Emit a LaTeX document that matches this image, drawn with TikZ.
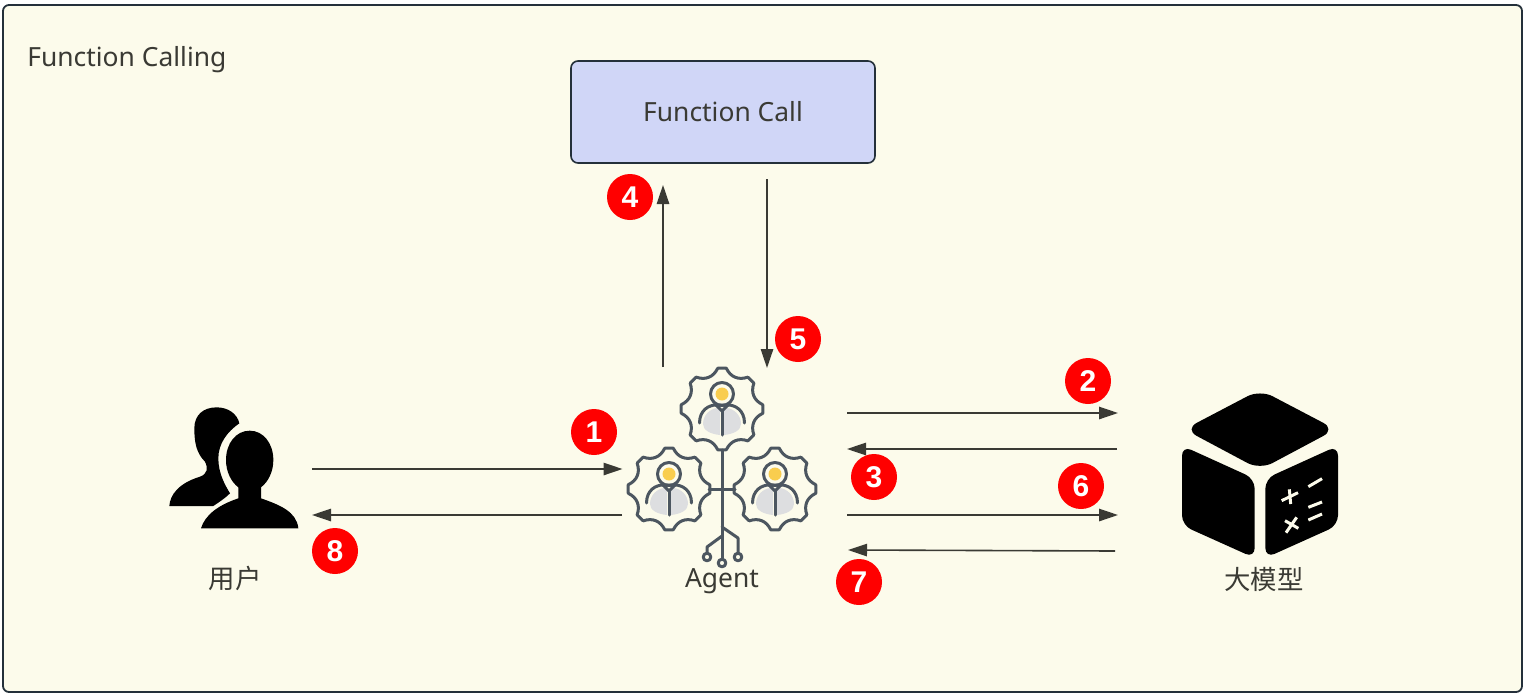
\documentclass[tikz,border=0pt]{standalone}
\usepackage{fontspec}
\setmainfont{Noto Sans}
\newfontfamily\cjk{Noto Sans CJK SC}
\newfontfamily\badgefont{Liberation Sans}
\usetikzlibrary{arrows.meta}
\definecolor{paper}{HTML}{FCFBEB}
\definecolor{ink}{HTML}{3A3A34}
\definecolor{edge}{HTML}{24303A}
\definecolor{boxfill}{HTML}{D0D6F7}
\definecolor{iconline}{HTML}{4C5660}
\definecolor{icongrey}{HTML}{DDDEE0}
\definecolor{iconyellow}{HTML}{F9CD4E}
\definecolor{badgered}{HTML}{FF0000}
\tikzset{
  flow/.style={draw=ink,line width=0.8pt,-{Triangle[length=9.5pt,width=6.2pt]}},
  badge/.style={circle,fill=badgered,text=white,minimum size=23pt,inner sep=0pt,font=\badgefont\bfseries\fontsize{15}{15}\selectfont},
  label/.style={text=ink,inner sep=0pt,font=\fontsize{13.2}{16}\selectfont},
  iconstroke/.style={draw=iconline,line width=1.5pt,line cap=round,line join=round},
}
\newcommand{\agentunit}[2]{%
  \begin{scope}[shift={(#1,#2)}]
    \draw[iconstroke] \foreach \a in {0,45,...,315}{ (\a-6:41) -- (\a+6:41) .. controls (\a+15:33) and (\a+30:33) .. (\a+39:41) };
    \fill[icongrey] (-2,1) -- (-2,26) .. controls (-12,25) and (-19,21) .. (-19,15) .. controls (-19,6) and (-12,0) .. (-5,-1) -- cycle;
    \fill[icongrey] (2,1) -- (2,26) .. controls (12,25) and (19,21) .. (19,15) .. controls (19,6) and (12,0) .. (5,-1) -- cycle;
    \draw[iconstroke] (-22.5,14) .. controls (-22.5,1) and (-13,-4) .. (-6,-4);
    \draw[iconstroke] (22.5,14) .. controls (22.5,1) and (13,-4) .. (6,-4);
    \draw[iconstroke] (-6,-4) -- (6,-4) -- (0,2) -- cycle;
    \draw[iconstroke] (0,2) -- (0,26);
    \fill[iconyellow] (0,-15) circle[radius=6.5];
    \draw[iconstroke] (0,-15) circle[radius=11.5];
  \end{scope}%
}
\begin{document}
\begin{tikzpicture}[x=0.5pt,y=-0.5pt]
\useasboundingbox (0,0) rectangle (1524,696);
\fill[white] (0,0) rectangle (1524,696);
\draw[draw=edge,line width=0.9pt,fill=paper,rounded corners=3pt] (3,5) rectangle (1522,692);

\node[label,anchor=west] (title) at (27,60) {Function Calling};
\node[draw=edge,line width=0.8pt,fill=boxfill,rounded corners=3.5pt,minimum width=152pt,minimum height=51pt,inner sep=0pt,text=ink,font=\fontsize{13.2}{16}\selectfont] (fc) at (723,112) {Function Call};

% user icon
\begin{scope}[shift={(150,390)},x=0.16667pt,y=-0.16667pt]
  \fill[black] (200,52) .. controls (235,52) and (262,72) .. (268,100)
    .. controls (232,125) and (205,160) .. (205,205)
    .. controls (205,250) and (225,285) .. (240,310)
    .. controls (225,325) and (205,338) .. (190,348)
    -- (58,348) .. controls (60,315) and (85,280) .. (150,260)
    .. controls (172,252) and (175,235) .. (165,215)
    .. controls (140,190) and (133,160) .. (133,115)
    .. controls (133,75) and (160,52) .. (200,52) -- cycle;
  \fill[black] (299,122) .. controls (340,122) and (370,160) .. (370,210)
    .. controls (370,245) and (355,275) .. (333,292)
    -- (333,325) .. controls (390,345) and (440,365) .. (445,415)
    -- (153,415) .. controls (165,375) and (205,345) .. (265,325)
    -- (265,292) .. controls (243,275) and (228,245) .. (228,210)
    .. controls (228,160) and (258,122) .. (299,122) -- cycle;
\end{scope}
\node[label,font=\cjk\fontsize{13.2}{16}\selectfont] (user) at (235,578) {用户};

% agent icon
\agentunit{722}{409}
\agentunit{669}{489}
\agentunit{775}{489}
\draw[iconstroke] (722,450) -- (722,559);
\draw[iconstroke] (709,489) -- (735,489);
\draw[iconstroke] (722,527) -- (738,538) -- (738,553);
\draw[iconstroke] (722,536) -- (707,547) -- (707,553);
\draw[iconstroke] (707,557) circle[radius=3.8];
\draw[iconstroke] (738,557) circle[radius=3.8];
\draw[iconstroke] (722,563) circle[radius=3.8];
\node[label] (agent) at (722,581) {Agent};

% model icon
\begin{scope}[shift={(1160,380)},x=0.16667pt,y=-0.16667pt]
  \fill[black,rounded corners=7pt] (300,29) -- (527,148) -- (300,269) -- (73,148) -- cycle;
  \fill[black,rounded corners=5pt] (66,197) -- (284,296) -- (284,534) -- (66,436) -- cycle;
  \fill[black,rounded corners=5pt] (534,197) -- (316,296) -- (316,534) -- (534,436) -- cycle;
  \begin{scope}[draw=paper,line width=1.5pt]
    \draw (365,362) -- (414,338);
    \draw (388,328) -- (392,372);
    \draw (375,422) -- (415,445);
    \draw (378,458) -- (410,412);
    \draw (445,320) -- (486,296);
    \draw (445,382) -- (486,366);
    \draw (445,420) -- (486,402);
  \end{scope}
\end{scope}
\node[label,font=\cjk\fontsize{13.2}{16}\selectfont] (model) at (1264,579) {大模型};

% connector ends
\coordinate (u1) at (312,469); \coordinate (a1) at (622.5,469);
\coordinate (a8) at (622,515); \coordinate (u8) at (312,515);
\coordinate (a4) at (663,367); \coordinate (f4) at (663,185);
\coordinate (f5) at (767,179); \coordinate (a5) at (767,368);
\coordinate (a2) at (847,413); \coordinate (m2) at (1118,413);
\coordinate (m3) at (1117,449); \coordinate (a3) at (847,449);
\coordinate (a6) at (847,515); \coordinate (m6) at (1118,515);
\coordinate (m7) at (1115,551); \coordinate (a7) at (848,550);
\draw[flow] (u1) -- (a1);
\draw[flow] (a8) -- (u8);
\draw[flow] (a4) -- (f4);
\draw[flow] (f5) -- (a5);
\draw[flow] (a2) -- (m2);
\draw[flow] (m3) -- (a3);
\draw[flow] (a6) -- (m6);
\draw[flow] (m7) -- (a7);

\node[badge] (b1) at (594,432) {1};
\node[badge] (b2) at (1088,381) {2};
\node[badge] (b3) at (874,477) {3};
\node[badge] (b4) at (630,197) {4};
\node[badge] (b5) at (798,339) {5};
\node[badge] (b6) at (1081,486) {6};
\node[badge] (b7) at (859,582) {7};
\node[badge] (b8) at (335,551) {8};
\end{tikzpicture}
\end{document}
